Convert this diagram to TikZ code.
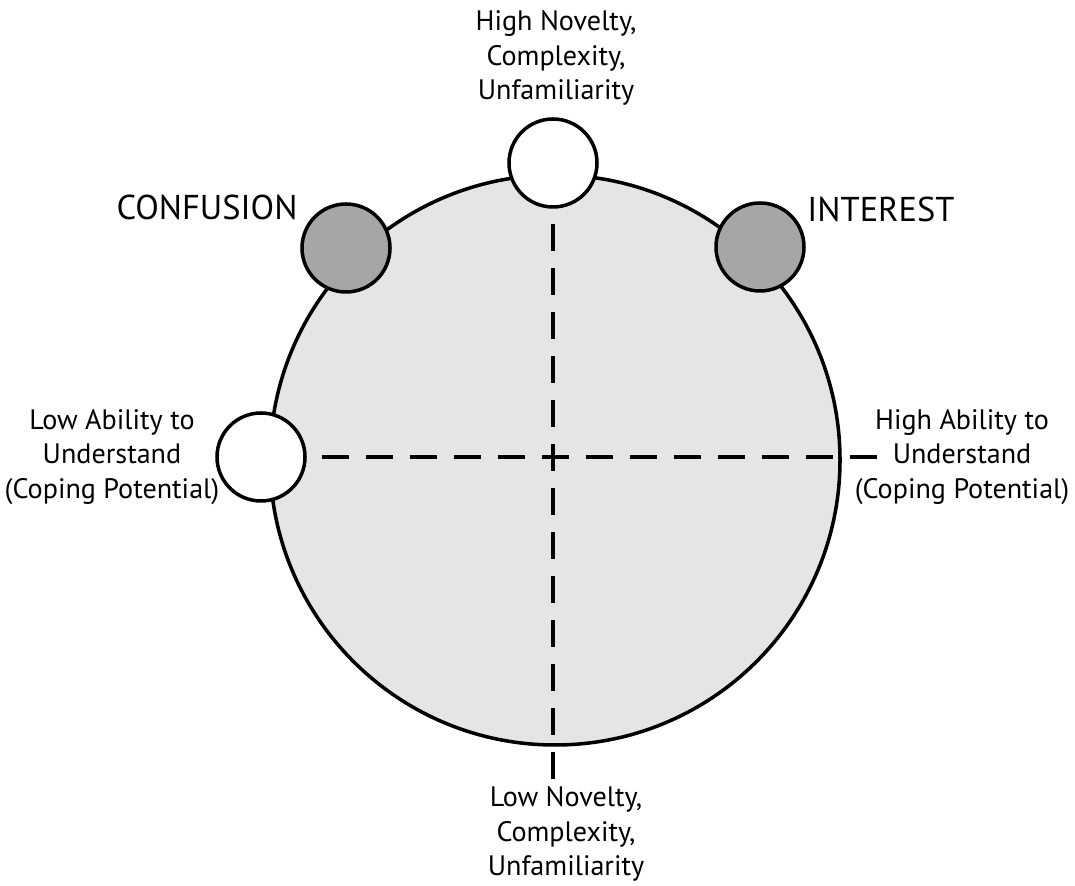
\documentclass[tikz,border=0pt]{standalone}
\usepackage{fontspec}
\setmainfont{PT Sans}
\usetikzlibrary{positioning}

\begin{document}
\begin{tikzpicture}
[disc/.style={circle,draw=black,fill=black!10,line width=2.5pt,inner sep=0pt,minimum size=14.25cm},
hole/.style={circle,draw=black,fill=white,line width=2.5pt,inner sep=0pt,minimum size=2.2cm},
spot/.style={circle,draw=black,fill=black!35,line width=2.5pt,inner sep=0pt,minimum size=2.2cm},
axis/.style={line width=2.5pt,dash pattern=on 0.675cm off 0.425cm,dash phase=0.675cm},
txt/.style={align=center,inner sep=0pt,font=\fontsize{20}{24.5}\selectfont},
big/.style={inner sep=0pt,font=\fontsize{24.5}{29}\selectfont}]
\useasboundingbox (0,0) rectangle (26.875,22.15);

\node (main) at (13.875,10.65) [disc] {};

\coordinate (botend) at (13.825,2.575);
\coordinate (rightend) at (21.925,10.725);

\draw [axis] (13.825,16.975) -- (botend);
\draw [axis] (7.625,10.725) -- (rightend);

\node (topc) at (13.825,18.075) [hole] {};
\node (lowc) at (6.525,10.725) [hole] {};
\node (confc) at (8.65,15.95) [spot] {};
\node (intc) at (19.0,15.975) [spot] {};

\node (toplab) at (13.9,20.7) [txt] {High Novelty,\\Complexity,\\Unfamiliarity};
\node (botlab) at (14.15,1.3) [txt] {Low Novelty,\\Complexity,\\Unfamiliarity};
\node (leftlab) at (2.8,10.725) [txt] {Low Ability to\\Understand\\(Coping Potential)};
\node (rightlab) at (24.05,10.725) [txt] {High Ability to\\Understand\\(Coping Potential)};
\node (conflab) at (5.175,16.975) [big] {CONFUSION};
\node (intlab) at (22.025,16.925) [big] {INTEREST};
\end{tikzpicture}
\end{document}
